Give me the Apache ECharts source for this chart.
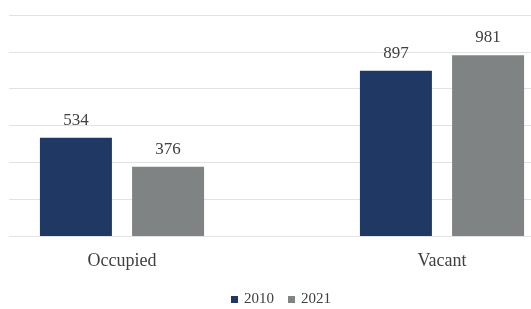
<!DOCTYPE html>
<html>
<head>
<meta charset="utf-8">
<script src="https://cdn.jsdelivr.net/npm/echarts@6/dist/echarts.min.js"></script>
<style>html,body{margin:0;padding:0;background:#fff;}#c{width:531px;height:309px;}</style>
</head>
<body>
<div id="c"></div>
<script>
const categories = ['Occupied', 'Vacant'];
const seriesNames = ['2010', '2021'];
const values2010 = [534, 897];
const values2021 = [376, 981];
const yMin = 0, yMax = 1200, yInterval = 200;

const font = '"Liberation Serif", "Times New Roman", serif';
const chart = echarts.init(document.getElementById('c'), null, {renderer: 'canvas'});
chart.setOption({
  backgroundColor: '#ffffff',
  animation: false,
  legend: {
    data: seriesNames,
    bottom: -3,
    left: 226,
    itemWidth: 7,
    itemHeight: 7,
    itemGap: 14,
    icon: 'rect',
    textStyle: {fontFamily: font, fontSize: 15, color: '#404040', padding: [0, 0, 0, 1]}
  },
  grid: [
    {left: 9, right: 0, top: 15, bottom: 73, outerBoundsMode: 'none', containLabel: false},
    {left: -38, right: -71, top: 15, bottom: 73, outerBoundsMode: 'none', containLabel: false}
  ],
  xAxis: [
    {gridIndex: 0, type: 'category', data: categories, show: false},
    {gridIndex: 1, type: 'category', data: categories,
     axisLine: {show: false}, axisTick: {show: false},
     axisLabel: {fontFamily: font, fontSize: 18, color: '#404040', margin: 16}}
  ],
  yAxis: [
    {gridIndex: 0, type: 'value', min: yMin, max: yMax, interval: yInterval,
     axisLabel: {show: false}, axisLine: {show: false}, axisTick: {show: false},
     splitLine: {lineStyle: {color: '#e2e2e2', width: 1}}},
    {gridIndex: 1, type: 'value', min: yMin, max: yMax, interval: yInterval, show: false,
     splitLine: {show: false}}
  ],
  series: [
    {name: seriesNames[0], type: 'bar', xAxisIndex: 1, yAxisIndex: 1, data: values2010,
     barWidth: 72, barGap: '28%', itemStyle: {color: '#1f3864'},
     label: {show: true, position: 'top', distance: 9, fontFamily: font, fontSize: 17, color: '#404040'}},
    {name: seriesNames[1], type: 'bar', xAxisIndex: 1, yAxisIndex: 1, data: values2021,
     barWidth: 72, barGap: '28%', itemStyle: {color: '#808384'},
     label: {show: true, position: 'top', distance: 9, fontFamily: font, fontSize: 17, color: '#404040'}}
  ]
});
</script>
</body>
</html>
